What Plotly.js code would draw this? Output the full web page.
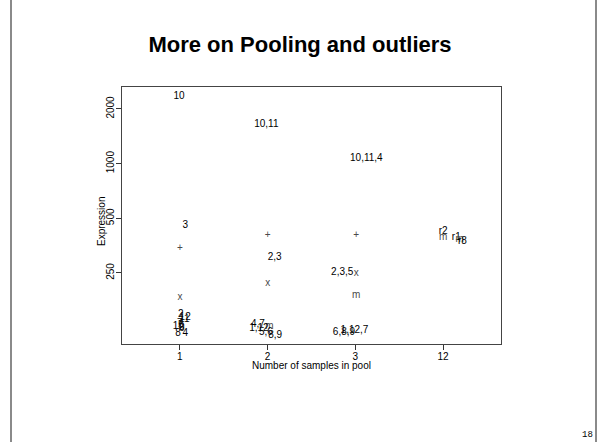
<!DOCTYPE html>
<html>
<head>
<meta charset="utf-8">
<script src="https://cdn.plot.ly/plotly-3.0.1.min.js"></script>
<style>
  html, body { margin: 0; padding: 0; background: #fff; }
  #wrap { position: relative; width: 600px; height: 442px; overflow: hidden; }
  #chart { width: 600px; height: 442px; }
  .edge { position: absolute; top: 0; width: 2px; height: 442px; background: #8a8a8a; }
</style>
</head>
<body>
<div id="wrap">
  <div id="chart"></div>
  <div class="edge" style="left:10px"></div>
  <div class="edge" style="left:595px"></div>
</div>
<script>
// ---- data ----
const groups = ["1", "2", "3", "12"];              // x-axis categories (number of samples in pool)
const yTicks = [250, 500, 1000, 2000];

// each point: its label, its group index, a small horizontal jitter (in group units), and its expression
const labels = [
  "10", "3", "+", "x", "2", "12", "11", "7", "1", "5", "9", "6", "8", "4",
  "10,11", "+", "2,3", "x", "4,7", "m", "1,12", "5,6", "8,9",
  "10,11,4", "+", "2,3,5", "x", "m", "1,12,7", "6,8,9",
  "r2", "m", "r1", "m", "r8"
];
const groupIndex = [
  0, 0, 0, 0, 0, 0, 0, 0, 0, 0, 0, 0, 0, 0,
  1, 1, 1, 1, 1, 1, 1, 1, 1,
  2, 2, 2, 2, 2, 2, 2,
  3, 3, 3, 3, 3
];
const jitter = [
  -0.01, 0.06, 0.00, 0.00, 0.01, 0.06, 0.05, 0.00, -0.05, 0.01, 0.02, 0.02, -0.02, 0.06,
  -0.015, 0.00, 0.08, 0.00, -0.11, 0.02, -0.10, -0.02, 0.085,
  0.125, 0.01, -0.15, 0.01, 0.01, -0.01, -0.13,
  0.00, 0.00, 0.15, 0.19, 0.22
];
const expression = [
  2337, 459, 343, 184, 148.6, 141.3, 138, 132.6, 127.6, 128, 126, 124.4, 116.8, 116.8,
  1647, 403, 305, 218, 130.9, 127.6, 124.4, 118.2, 113.8,
  1070, 400, 251, 248.4, 187, 120.3, 117.2,
  425.7, 392, 392, 380, 375
];

// ---- layout geometry (pixels) ----
const L = 122, R = 501, T = 87, B = 344, W = 600, H = 442;
const px2x = px => (px - L) / (R - L);
const px2y = py => (B - py) / (B - T);

const xs = groupIndex.map((g, i) => g + jitter[i]);
const colors = labels.map(s => (s === "x" || s === "m" || s === "+") ? "#4a4a4a" : "#000000");

const FONT = "Liberation Sans, Arial, Helvetica, sans-serif";

const trace = {
  type: "scatter",
  mode: "text",
  x: xs,
  y: expression,
  text: labels,
  textposition: "middle center",
  textfont: { family: FONT, size: 10, color: colors },
  hoverinfo: "skip",
  showlegend: false
};

const layout = {
  width: W, height: H,
  margin: { l: L, r: W - R, t: T, b: H - B, pad: 0 },
  paper_bgcolor: "#ffffff",
  plot_bgcolor: "#ffffff",
  showlegend: false,
  title: {
    text: "<b>More on Pooling and outliers</b>",
    font: { family: FONT, size: 22, color: "#000" },
    x: 0.5, xref: "container", xanchor: "center",
    y: 1 - 44 / H, yref: "container", yanchor: "middle"
  },
  xaxis: {
    type: "linear",
    range: [-0.66, 3.66],
    tickmode: "array",
    tickvals: groups.map((g, i) => i),
    ticktext: groups,
    ticks: "outside", ticklen: 5, tickwidth: 1, tickcolor: "#333",
    showgrid: false, zeroline: false,
    showline: true, mirror: true, linecolor: "#444", linewidth: 1,
    tickfont: { family: FONT, size: 10, color: "#000" },
    ticklabelstandoff: -2
  },
  yaxis: {
    type: "log",
    range: [Math.log10(101.6), Math.log10(2643)],
    tickmode: "array",
    tickvals: yTicks,
    ticktext: yTicks.map(String),
    tickangle: -90,
    ticks: "outside", ticklen: 5, tickwidth: 1, tickcolor: "#333",
    showgrid: false, zeroline: false,
    showline: true, mirror: true, linecolor: "#444", linewidth: 1,
    tickfont: { family: FONT, size: 10, color: "#000" },
    ticklabelstandoff: -2
  },
  annotations: [
    {
      text: "Number of samples in pool", showarrow: false,
      xref: "paper", yref: "paper",
      x: 0.5, y: px2y(365.5), xanchor: "center", yanchor: "middle",
      font: { family: FONT, size: 10, color: "#000" }
    },
    {
      text: "Expression", showarrow: false, textangle: -90,
      xref: "paper", yref: "paper",
      x: px2x(101), y: px2y(222), xanchor: "center", yanchor: "middle",
      font: { family: FONT, size: 10, color: "#000" }
    },
    {
      text: "18", showarrow: false,
      xref: "paper", yref: "paper",
      x: px2x(587), y: px2y(435),
      xanchor: "center", yanchor: "middle",
      font: { family: "Liberation Mono, DejaVu Sans Mono, monospace", size: 9, color: "#000" }
    }
  ]
};

Plotly.newPlot("chart", [trace], layout, { staticPlot: true, displayModeBar: false });
</script>
</body>
</html>
